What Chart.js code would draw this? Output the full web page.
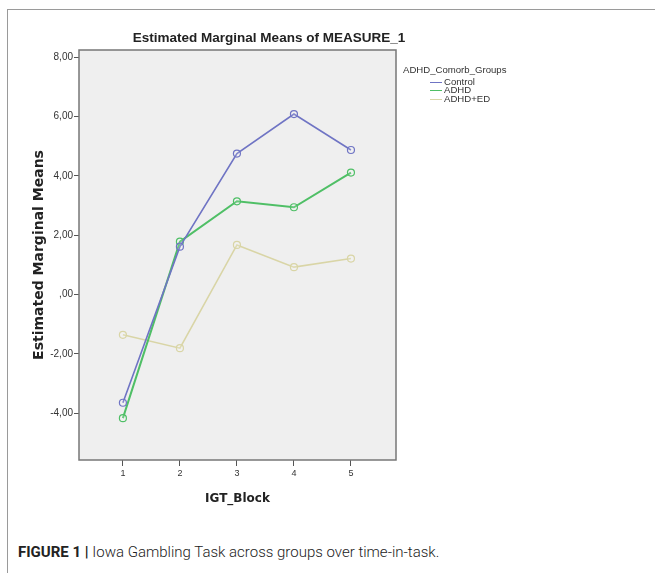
<!DOCTYPE html>
<html>
<head>
<meta charset="utf-8">
<script src="https://cdn.jsdelivr.net/npm/chart.js@4"></script>
<style>
  body { margin: 0; background: #fff; width: 655px; height: 573px; overflow: hidden; position: relative; font-family: "Liberation Sans", Arial, sans-serif; }
  #frame { position: absolute; left: 7px; top: 9px; right: -2px; bottom: -2px; border-left: 1px solid #9a9a9a; border-top: 1px solid #9a9a9a; }
  #wrap { position: absolute; left: 0; top: 0; width: 538px; height: 520px; }
  #legend { position: absolute; left: 403px; top: 66px; font-size: 9.6px; color: #333; line-height: 8.6px; }
  #legend .ttl { margin-bottom: 3px; }
  #legend .item { padding-left: 27px; }
  #legend .sw { display: inline-block; width: 12px; height: 0; border-top: 1.5px solid; vertical-align: middle; margin-right: 2px; }
  #caption { position: absolute; left: 18px; top: 543px; font-size: 15px; color: #222; font-family: Roboto, "Liberation Sans", sans-serif; font-weight: 300; white-space: nowrap; }
  #caption b { font-weight: 700; }
</style>
</head>
<body>
<div id="frame"></div>
<div id="wrap"><canvas id="chart"></canvas></div>
<div id="legend"></div>
<div id="caption"><b>FIGURE 1 |</b> Iowa Gambling Task across groups over time-in-task.</div>
<script>
// IGT blocks (x) and estimated marginal means per group
const blocks = [1, 2, 3, 4, 5];
const control = [-3.65, 1.61, 4.75, 6.08, 4.87];
const adhd = [-4.17, 1.78, 3.14, 2.94, 4.11];
const adhdEd = [-1.36, -1.81, 1.67, 0.92, 1.21];
const groupNames = ['Control', 'ADHD', 'ADHD+ED'];
const groupColors = ['#6f74c4', '#4fbf66', '#d9d5a6'];
const yTicks = [-4, -2, 0, 2, 4, 6, 8];

const series = [control, adhd, adhdEd];

// fond gris + cadre de la zone de tracé
const plotBox = {
  id: 'plotBox',
  beforeDatasetsDraw(chart) {
    const a = chart.chartArea;
    const ctx = chart.ctx;
    ctx.save();
    ctx.fillStyle = '#efefef';
    ctx.fillRect(a.left, a.top, a.right - a.left, a.bottom - a.top);
    ctx.strokeStyle = '#777';
    ctx.lineWidth = 1.5;
    ctx.strokeRect(a.left, a.top, a.right - a.left, a.bottom - a.top);
    ctx.restore();
  }
};

function fmt(v) {
  let s = v.toFixed(2).replace('.', ',');
  if (s.startsWith('0,')) s = s.slice(1);
  return s;
}

new Chart(document.getElementById('chart'), {
  type: 'line',
  data: {
    datasets: series.map((vals, i) => ({
      label: groupNames[i],
      data: blocks.map((b, j) => ({ x: b, y: vals[j] })),
      borderColor: groupColors[i],
      backgroundColor: 'rgba(255,255,255,0)',
      pointBorderColor: groupColors[i],
      pointBackgroundColor: 'rgba(255,255,255,0.15)',
      borderWidth: i === 1 ? 2 : 1.6,
      pointRadius: 3.5,
      pointBorderWidth: 1.2,
      tension: 0
    }))
  },
  plugins: [plotBox],
  options: {
    responsive: true,
    maintainAspectRatio: false,
    animation: false,
    layout: { padding: 0 },
    plugins: {
      legend: { display: false },
      tooltip: { enabled: false },
      title: {
        display: true,
        text: 'Estimated Marginal Means of MEASURE_1',
        color: '#222',
        font: { family: 'Liberation Sans', size: 13.5, weight: 'bold' },
        padding: { top: 30, bottom: 3.8 }
      }
    },
    scales: {
      x: {
        type: 'linear',
        min: 0.23,
        max: 5.79,
        afterFit: s => { s.height = 60; },
        afterBuildTicks: s => { s.ticks = blocks.map(v => ({ value: v })); },
        ticks: { color: '#333', font: { family: 'Liberation Sans', size: 9 }, padding: 2, callback: v => String(v) },
        grid: { drawOnChartArea: false, drawTicks: true, tickLength: 6, color: '#555', tickWidth: 1 },
        border: { display: false },
        title: { display: true, text: 'IGT_Block', color: '#222', font: { family: 'DejaVu Sans', size: 12, weight: 'bold' }, padding: { top: 0, bottom: 14 } }
      },
      y: {
        min: -5.58,
        max: 8.24,
        afterFit: s => { s.width = 79; },
        afterBuildTicks: s => { s.ticks = yTicks.map(v => ({ value: v })); },
        ticks: { color: '#333', font: { family: 'Liberation Sans', size: 10 }, padding: 1, callback: v => fmt(v) },
        grid: { drawOnChartArea: false, drawTicks: true, tickLength: 5, color: '#555', tickWidth: 1 },
        border: { display: false },
        title: { display: true, text: 'Estimated Marginal Means', color: '#222', font: { family: 'DejaVu Sans', size: 14, weight: 'bold' }, padding: { top: 31, bottom: 0 } }
      },
      // espace vide à droite pour la légende
      spacer: {
        type: 'linear',
        position: 'right',
        afterFit: s => { s.width = 142; },
        ticks: { display: false },
        grid: { display: false },
        border: { display: false }
      }
    }
  }
});

// légende
const legend = document.getElementById('legend');
legend.innerHTML = '<div class="ttl">ADHD_Comorb_Groups</div>' +
  groupNames.map((n, i) => `<div class="item"><span class="sw" style="border-color:${groupColors[i]}"></span>${n}</div>`).join('');
</script>
</body>
</html>
